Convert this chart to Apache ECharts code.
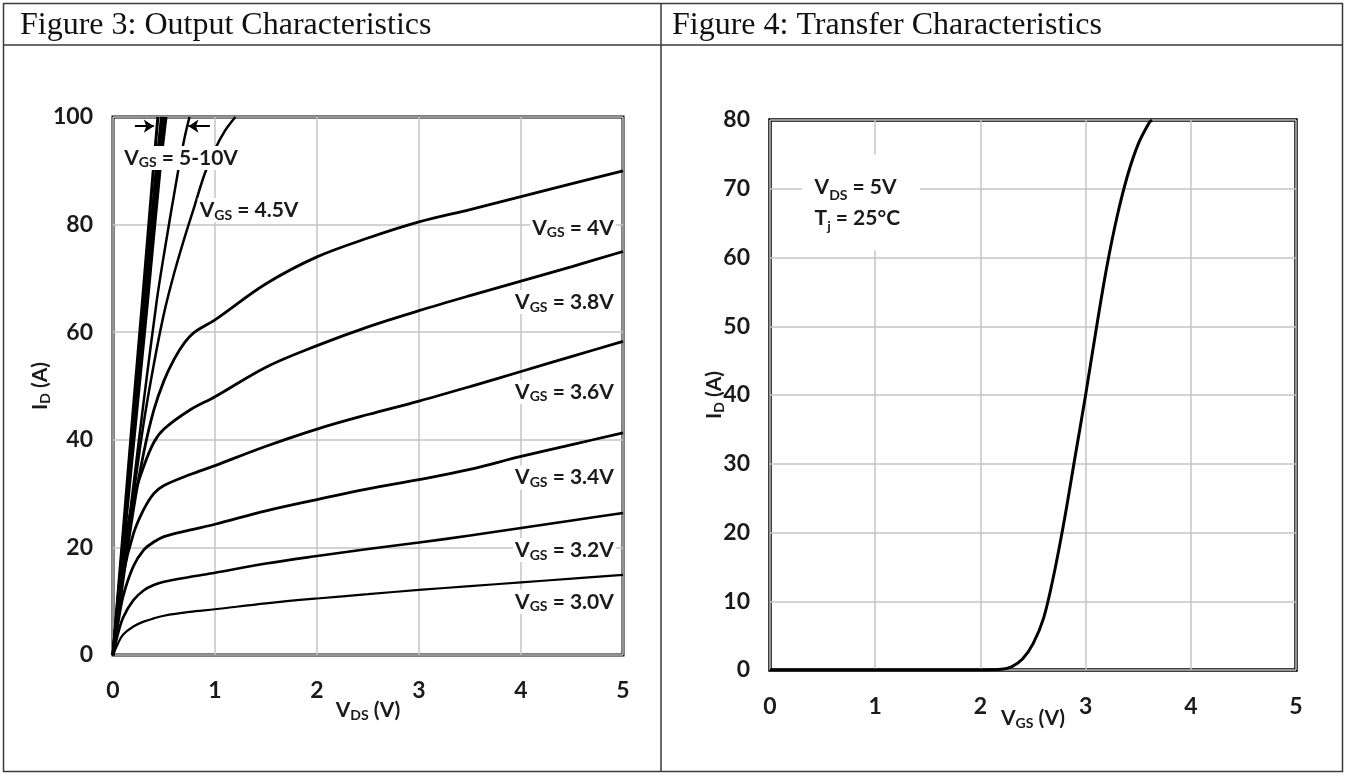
<!DOCTYPE html>
<html><head><meta charset="utf-8">
<script src="https://cdn.jsdelivr.net/npm/echarts@6/dist/echarts.min.js"></script>
<style>html,body{margin:0;padding:0;background:#fff}#c{width:1347px;height:776px}</style>
</head><body><div id="c"></div>
<script>
// ---- tick labels ----
const vdsTicks = [0, 1, 2, 3, 4, 5];
const idOutTicks = [0, 20, 40, 60, 80, 100];
const vgsTicks = [0, 1, 2, 3, 4, 5];
const idTrTicks = [0, 10, 20, 30, 40, 50, 60, 70, 80];

// ---- Figure 3: output characteristics, [VDS (V), ID (A)] ----
const vgs10 = [[0,0],[0.1,23],[0.2,46],[0.29,66],[0.39,89],[0.44,100]];
const vgs8  = [[0,0],[0.1,21.5],[0.2,43],[0.31,66],[0.42,89.5],[0.475,100]];
const vgs7  = [[0,0],[0.1,20.5],[0.2,41],[0.325,66],[0.44,90],[0.5,100]];
const vgs6  = [[0,0],[0.1,19.5],[0.2,39],[0.34,66],[0.46,90],[0.52,100]];
const vgs5  = [[0,0],[0.1,16],[0.2,31.5],[0.3,47],[0.43,66],[0.5,74.5],[0.637,89.8],[0.7,96],[0.75,100]];
const vgs4_5 = [[0,0],[0.1,15],[0.2,29.5],[0.3,43],[0.4,54],[0.5,63.5],[0.6,71],[0.7,77.5],[0.8,83.5],[0.9,89.5],[1.0,94],[1.1,97.5],[1.2,100]];
const vgs4_0 = [[0,0],[0.1,14],[0.2,27],[0.3,37.5],[0.4,45.5],[0.5,51],[0.6,55],[0.7,58],[0.8,60],[1,62.3],[1.5,69],[2,74],[2.5,77.5],[3,80.5],[3.5,82.8],[4,85.2],[4.5,87.6],[5,90]];
const vgs3_8 = [[0,0],[0.05,10],[0.1,19],[0.2,29],[0.3,35],[0.4,39.5],[0.5,42],[0.75,45.5],[1,48],[1.5,53.5],[2,57.5],[2.5,61],[3,64],[3.5,66.8],[4,69.5],[4.5,72.2],[5,75]];
const vgs3_6 = [[0,0],[0.05,8],[0.1,15],[0.2,22.5],[0.3,27],[0.4,30],[0.5,31.5],[0.75,33.5],[1,35.2],[1.5,38.8],[2,42],[2.5,44.7],[3,47.2],[3.5,49.9],[4,52.7],[4.5,55.5],[5,58.3]];
const vgs3_4 = [[0,0],[0.05,6],[0.1,11],[0.2,16.5],[0.3,19.5],[0.4,21],[0.5,22],[0.75,23.2],[1,24.3],[1.5,26.8],[2,28.9],[2.5,30.9],[3,32.6],[3.5,34.5],[4,36.9],[4.5,39.1],[5,41.3]];
const vgs3_2 = [[0,0],[0.05,4],[0.1,7],[0.2,10.2],[0.3,12],[0.4,13],[0.5,13.6],[0.75,14.5],[1,15.3],[1.5,17],[2,18.4],[2.5,19.7],[3,20.9],[3.5,22.2],[4,23.6],[4.5,25],[5,26.4]];
const vgs3_0 = [[0,0],[0.05,2.2],[0.1,3.8],[0.2,5.3],[0.3,6.2],[0.4,6.8],[0.5,7.3],[0.75,8],[1,8.5],[1.5,9.6],[2,10.5],[2.5,11.3],[3,12.1],[3.5,12.8],[4,13.5],[4.5,14.2],[5,14.9]];

// ---- Figure 4: transfer characteristics, [VGS (V), ID (A)] ----
const transfer = [[0,0],[0.5,0],[1,0],[1.5,0],[2,0],[2.2,0.1],[2.3,0.5],[2.4,1.6],[2.5,3.8],[2.6,7.5],[2.7,14],[2.8,22],[2.9,31],[3.0,40],[3.1,49.5],[3.2,58.5],[3.3,66],[3.4,72],[3.5,76.5],[3.6,79.5],[3.63,80]];

const FONT = 'Lato';
const TXT = '#1a1a1a';
const richSmall = {
  a: {fontFamily: FONT, fontWeight: 'bold', fontSize: 21, color: TXT, lineHeight: 24},
  s: {fontFamily: FONT, fontWeight: 'bold', fontSize: 14, color: TXT, lineHeight: 14, verticalAlign: 'bottom'}
};
const richBox = {
  a: {fontFamily: FONT, fontWeight: 'bold', fontSize: 21, color: TXT, lineHeight: 31},
  s: {fontFamily: FONT, fontWeight: 'bold', fontSize: 14, color: TXT, lineHeight: 21, verticalAlign: 'bottom'}
};
const sub = (m, s, rest) => '{a|' + m + '}{s|' + s + '}{a|' + rest + '}';

function curve(data, w) {
  return {
    type: 'line', xAxisIndex: 0, yAxisIndex: 0, data: data,
    showSymbol: false, symbol: 'none', smooth: 0.35,
    lineStyle: {color: '#000', width: w}, silent: true, z: 3
  };
}

const gridLine = {show: true, lineStyle: {color: '#c4c4c4', width: 1.5}};
const axisLab = {fontFamily: FONT, fontWeight: 'bold', fontSize: 23, color: TXT};

const option = {
  backgroundColor: '#fff',
  animation: false,
  graphic: [
    {type: 'rect', shape: {x: 3.5, y: 3.5, width: 1339, height: 768}, style: {fill: 'none', stroke: '#3a3a3a', lineWidth: 1.5}},
    {type: 'line', shape: {x1: 3.5, y1: 45, x2: 1342.5, y2: 45}, style: {stroke: '#3a3a3a', lineWidth: 1.5}},
    {type: 'line', shape: {x1: 661, y1: 3.5, x2: 661, y2: 771.5}, style: {stroke: '#3a3a3a', lineWidth: 1.5}},
    {type: 'text', left: 20, top: 10, style: {text: 'Figure 3: Output Characteristics', fontFamily: 'Liberation Serif', fontSize: 32, fill: '#111'}},
    {type: 'text', left: 672, top: 10, style: {text: 'Figure 4: Transfer Characteristics', fontFamily: 'Liberation Serif', fontSize: 32, fill: '#111'}}
  ],
  grid: [
    {left: 113, top: 117, width: 510, height: 538, show: true, borderColor: '#000', borderWidth: 3, backgroundColor: 'transparent'},
    {left: 770, top: 120, width: 526, height: 550, show: true, borderColor: '#000', borderWidth: 3.5, backgroundColor: 'transparent'}
  ],
  xAxis: [
    {type: 'value', gridIndex: 0, min: vdsTicks[0], max: vdsTicks[vdsTicks.length-1], interval: 1,
     axisLine: {show: false}, axisTick: {show: false}, splitLine: gridLine,
     axisLabel: Object.assign({margin: 24}, axisLab),
     name: sub('V', 'DS', ' (V)'), nameLocation: 'middle', nameGap: 43, nameMoveOverlap: false,
     nameTextStyle: {rich: richSmall}},
    {type: 'value', gridIndex: 1, min: vgsTicks[0], max: vgsTicks[vgsTicks.length-1], interval: 1,
     axisLine: {show: false}, axisTick: {show: false}, splitLine: gridLine,
     axisLabel: Object.assign({margin: 25}, axisLab),
     name: sub('V', 'GS', ' (V)'), nameLocation: 'middle', nameGap: 36, nameMoveOverlap: false,
     nameTextStyle: {rich: richSmall}}
  ],
  yAxis: [
    {type: 'value', gridIndex: 0, min: idOutTicks[0], max: idOutTicks[idOutTicks.length-1], interval: 20,
     axisLine: {show: false}, axisTick: {show: false}, splitLine: gridLine,
     axisLabel: Object.assign({margin: 20}, axisLab),
     name: sub('I', 'D', ' (A)'), nameLocation: 'middle', nameGap: 61, nameRotate: 90, nameMoveOverlap: false,
     nameTextStyle: {rich: richSmall}},
    {type: 'value', gridIndex: 1, min: idTrTicks[0], max: idTrTicks[idTrTicks.length-1], interval: 10,
     axisLine: {show: false}, axisTick: {show: false}, splitLine: gridLine,
     axisLabel: Object.assign({margin: 20}, axisLab),
     name: sub('I', 'D', ' (A)'), nameLocation: 'middle', nameGap: 44, nameRotate: 90, nameMoveOverlap: false,
     nameTextStyle: {rich: richSmall}}
  ],
  series: [
    curve(vgs10, 3), curve(vgs8, 3), curve(vgs7, 3), curve(vgs6, 3),
    curve(vgs5, 2.5), curve(vgs4_5, 2.5), curve(vgs4_0, 2.8),
    curve(vgs3_8, 2.8), curve(vgs3_6, 2.8), curve(vgs3_4, 2.8),
    curve(vgs3_2, 2.6), curve(vgs3_0, 2.2),
    {
      type: 'scatter', xAxisIndex: 0, yAxisIndex: 0, symbolSize: 0, silent: true, z: 10,
      itemStyle: {opacity: 1},
      label: {show: true, opacity: 1, position: 'left', distance: 0, backgroundColor: '#fff', padding: [0, 2], rich: richSmall},
      data: [
        {value: [4.93, 79.4], label: {formatter: sub('V', 'GS', ' = 4V')}},
        {value: [4.93, 65.6], label: {formatter: sub('V', 'GS', ' = 3.8V')}},
        {value: [4.93, 48.9], label: {formatter: sub('V', 'GS', ' = 3.6V')}},
        {value: [4.93, 33.0], label: {formatter: sub('V', 'GS', ' = 3.4V')}},
        {value: [4.93, 19.5], label: {formatter: sub('V', 'GS', ' = 3.2V')}},
        {value: [4.93, 9.9], label: {formatter: sub('V', 'GS', ' = 3.0V')}},
        {value: [0.83, 82.7], label: {position: 'right', formatter: sub('V', 'GS', ' = 4.5V')}},
        {value: [0.09, 92.4], label: {position: 'right', formatter: sub('V', 'GS', ' = 5-10V')}}
      ],
      markLine: {
        silent: true, symbol: ['none', 'arrow'], symbolSize: 10,
        lineStyle: {color: '#000', width: 2, type: 'solid', opacity: 1}, label: {show: false},
        data: [
          [{coord: [0.215, 98.3]}, {coord: [0.4, 98.3]}],
          [{coord: [0.95, 98.3]}, {coord: [0.74, 98.3]}]
        ]
      }
    },
    {
      type: 'line', xAxisIndex: 1, yAxisIndex: 1, data: transfer,
      showSymbol: false, symbol: 'none', smooth: 0.35,
      lineStyle: {color: '#000', width: 3}, silent: true, z: 3
    },
    {
      type: 'scatter', xAxisIndex: 1, yAxisIndex: 1, symbolSize: 0, silent: true, z: 10,
      itemStyle: {opacity: 1},
      label: {show: true, opacity: 1, position: 'right', distance: 0, backgroundColor: '#fff', padding: [17, 20, 17, 13], rich: richBox,
        formatter: sub('V', 'DS', ' = 5V') + '\n' + sub('T', 'j', ' = 25°C')},
      data: [[0.30, 68]]
    }
  ]
};

const chart = echarts.init(document.getElementById('c'), null, {renderer: 'canvas'});
chart.setOption(option);
</script>
</body></html>
